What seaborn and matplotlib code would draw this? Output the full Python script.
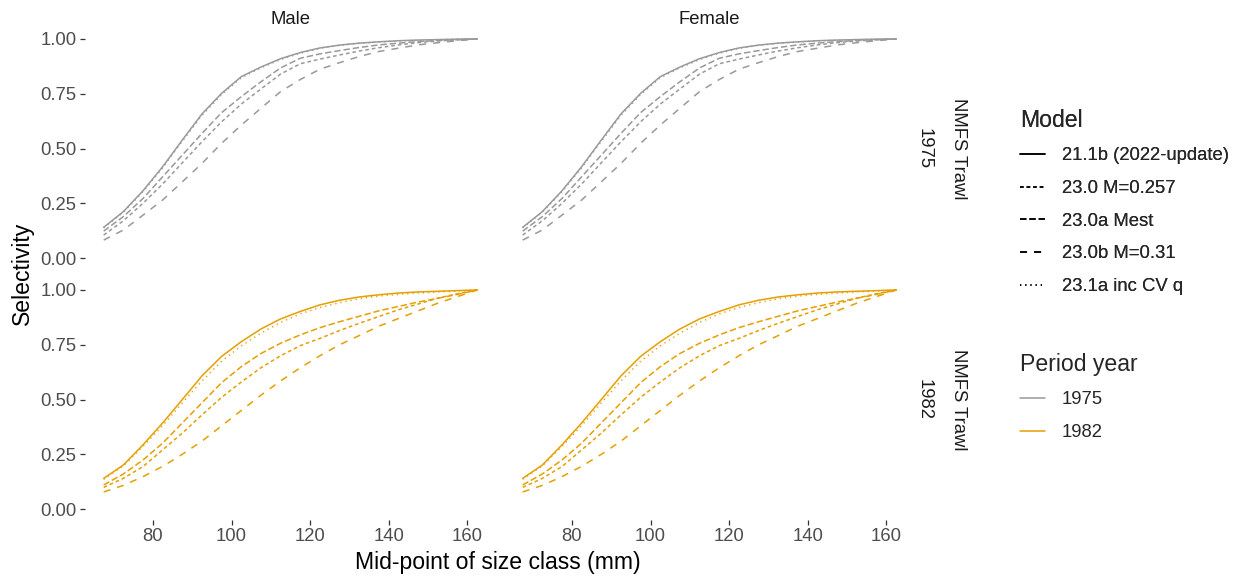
import numpy as np
import pandas as pd
import seaborn as sns
import matplotlib.pyplot as plt
from matplotlib.lines import Line2D

# Mid-point of each 5 mm size class
size_mid = [67.5, 72.5, 77.5, 82.5, 87.5, 92.5, 97.5, 102.5, 107.5, 112.5,
            117.5, 122.5, 127.5, 132.5, 137.5, 142.5, 147.5, 152.5, 157.5, 162.5]

models = ["21.1b (2022-update)", "23.0 M=0.257", "23.0a Mest", "23.0b M=0.31", "23.1a inc CV q"]
years = ["1975", "1982"]
sexes = ["Male", "Female"]
fleet = "NMFS Trawl"

# Survey selectivity, period 1975 (same for both sexes)
sel_1975_211b = [0.140, 0.212, 0.307, 0.417, 0.539, 0.658, 0.752, 0.828, 0.872, 0.910,
                 0.938, 0.959, 0.972, 0.981, 0.987, 0.992, 0.995, 0.997, 0.999, 1.000]
sel_1975_230 = [0.105, 0.170, 0.250, 0.338, 0.435, 0.531, 0.622, 0.703, 0.772, 0.840,
                0.887, 0.908, 0.927, 0.945, 0.960, 0.973, 0.983, 0.991, 0.996, 1.000]
sel_1975_230a = [0.123, 0.189, 0.272, 0.371, 0.470, 0.569, 0.664, 0.737, 0.805, 0.868,
                 0.912, 0.932, 0.947, 0.961, 0.973, 0.981, 0.988, 0.993, 0.997, 1.000]
sel_1975_230b = [0.082, 0.128, 0.196, 0.265, 0.348, 0.432, 0.524, 0.607, 0.684, 0.760,
                 0.815, 0.862, 0.892, 0.920, 0.943, 0.958, 0.973, 0.983, 0.992, 1.000]
sel_1975_231a = [0.138, 0.209, 0.303, 0.412, 0.533, 0.651, 0.746, 0.823, 0.868, 0.906,
                 0.935, 0.957, 0.971, 0.980, 0.986, 0.991, 0.994, 0.997, 0.999, 1.000]

# Survey selectivity, period 1982 (same for both sexes)
sel_1982_211b = [0.140, 0.201, 0.293, 0.393, 0.500, 0.608, 0.697, 0.764, 0.822, 0.868,
                 0.902, 0.932, 0.953, 0.968, 0.978, 0.986, 0.991, 0.994, 0.997, 1.000]
sel_1982_230 = [0.099, 0.140, 0.194, 0.270, 0.347, 0.430, 0.510, 0.580, 0.645, 0.700,
                0.746, 0.779, 0.815, 0.848, 0.879, 0.910, 0.936, 0.963, 0.983, 1.000]
sel_1982_230a = [0.110, 0.160, 0.224, 0.301, 0.393, 0.485, 0.577, 0.650, 0.710, 0.757,
                 0.795, 0.828, 0.855, 0.880, 0.905, 0.925, 0.945, 0.962, 0.980, 1.000]
sel_1982_230b = [0.078, 0.108, 0.148, 0.195, 0.250, 0.310, 0.380, 0.450, 0.520, 0.585,
                 0.645, 0.700, 0.750, 0.792, 0.835, 0.870, 0.905, 0.940, 0.970, 1.000]
sel_1982_231a = [0.136, 0.197, 0.286, 0.381, 0.485, 0.585, 0.675, 0.745, 0.803, 0.852,
                 0.891, 0.920, 0.942, 0.960, 0.972, 0.980, 0.986, 0.991, 0.995, 1.000]

curves = {
    "1975": [sel_1975_211b, sel_1975_230, sel_1975_230a, sel_1975_230b, sel_1975_231a],
    "1982": [sel_1982_211b, sel_1982_230, sel_1982_230a, sel_1982_230b, sel_1982_231a],
}

x_ticks = [80, 100, 120, 140, 160]
y_ticks = [0.00, 0.25, 0.50, 0.75, 1.00]
y_tick_labels = ["0.00", "0.25", "0.50", "0.75", "1.00"]

rows = []
for yr in years:
    for sex in sexes:
        for m, vals in zip(models, curves[yr]):
            for L, s in zip(size_mid, vals):
                rows.append({"size": L, "sel": s, "model": m, "year": yr, "sex": sex})
df = pd.DataFrame(rows)

palette = {"1975": "#999999", "1982": "#E69F00"}
dash_map = {
    models[0]: "",
    models[1]: (2.4, 1.9),
    models[2]: (4.2, 1.9),
    models[3]: (4.6, 4.6),
    models[4]: (0.8, 2.6),
}

sns.set_theme(style="white")
plt.rcParams["font.family"] = ["Liberation Sans", "DejaVu Sans"]

W, H = 1238, 579
fig = plt.figure(figsize=(W / 100, H / 100), dpi=100)

lefts = [85, 504]
tops = [28, 279]
pw, ph = 411, 241

text_col = "#4D4D4D"
dark = "#1A1A1A"
small = 13.3
big = 16.6

for r, yr in enumerate(years):
    for c, sex in enumerate(sexes):
        ax = fig.add_axes([lefts[c] / W, 1 - (tops[r] + ph) / H, pw / W, ph / H])
        sub = df[(df["year"] == yr) & (df["sex"] == sex)]
        sns.lineplot(data=sub, x="size", y="sel", hue="year", palette=palette,
                     style="model", style_order=models, dashes=dash_map,
                     linewidth=1.1, errorbar=None, legend=False, ax=ax)
        ax.set_xlim(62.75, 167.25)
        ax.set_ylim(-0.05, 1.05)
        ax.set_xlabel("")
        ax.set_ylabel("")
        for sp in ax.spines.values():
            sp.set_visible(False)
        ax.set_xticks(x_ticks)
        ax.set_yticks(y_ticks)
        ax.tick_params(axis="both", which="major", direction="out", length=3.8, width=0.9,
                       color="#333333", labelsize=small, labelcolor=text_col, pad=2.2,
                       left=(c == 0), labelleft=(c == 0),
                       bottom=(r == 1), labelbottom=(r == 1))
        if c == 0:
            ax.set_yticklabels(y_tick_labels)
        if r == 0:
            fig.text((lefts[c] + pw / 2) / W, 1 - 19 / H, sex, ha="center", va="center",
                     fontsize=small, color=dark)
        if c == 1:
            yc = 1 - (tops[r] + ph / 2) / H
            fig.text(924 / W, yc, yr, rotation=-90, ha="center", va="center",
                     fontsize=small, color=dark)
            fig.text(959 / W, yc, fleet, rotation=-90, ha="center", va="center",
                     fontsize=small, color=dark)

fig.text(498 / W, 1 - 563 / H, "Mid-point of size class (mm)", ha="center", va="center",
         fontsize=big, color="black")
fig.text(22 / W, 1 - 273 / H, "Selectivity", rotation=90, ha="center", va="center",
         fontsize=big, color="black")

model_handles = [Line2D([], [], color="black", lw=1.1, linestyle="-")]
for m in models[1:]:
    model_handles.append(Line2D([], [], color="black", lw=1.1, linestyle=(0, dash_map[m])))
leg1 = fig.legend(model_handles, models, title="Model", loc="upper left",
                  bbox_to_anchor=(1003 / W, 1 - 92 / H), frameon=False,
                  fontsize=small, title_fontsize=big, handlelength=1.35,
                  handletextpad=0.92, labelspacing=0.85, alignment="left")
year_handles = [Line2D([], [], color=palette[y], lw=1.1) for y in years]
leg2 = fig.legend(year_handles, years, title="Period year", loc="upper left",
                  bbox_to_anchor=(1003 / W, 1 - 336 / H), frameon=False,
                  fontsize=small, title_fontsize=big, handlelength=1.35,
                  handletextpad=0.92, labelspacing=0.85, alignment="left")
fig.add_artist(leg1)

fig.savefig("out.png", dpi=100, facecolor="white")
